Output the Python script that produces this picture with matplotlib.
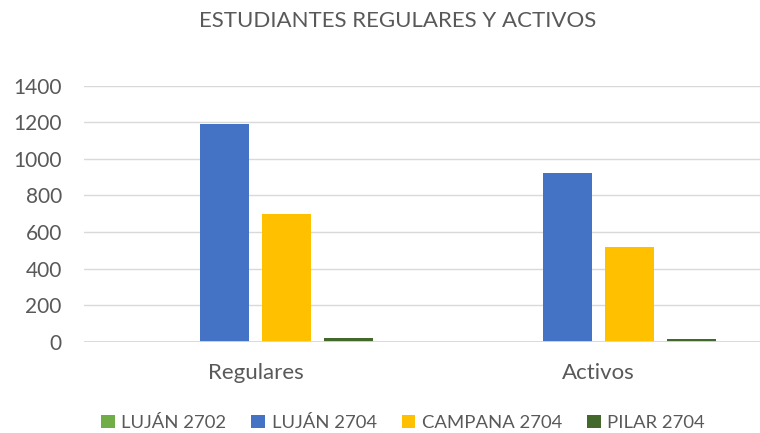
import matplotlib.pyplot as plt
import numpy as np

categories = ["Regulares", "Activos"]
series_names = ["LUJÁN 2702", "LUJÁN 2704", "CAMPANA 2704", "PILAR 2704"]
lujan_2702 = [0, 0]
lujan_2704 = [1190, 925]
campana_2704 = [697, 519]
pilar_2704 = [21, 19]
y_ticks = [0, 200, 400, 600, 800, 1000, 1200, 1400]

colors = ["#70AD47", "#4472C4", "#FFC000", "#43682B"]
text_color = "#595959"

plt.rcParams['font.family'] = ['Lato', 'DejaVu Sans']


def main():
    fig = plt.figure(figsize=(7.6, 4.33), dpi=100)
    ax = fig.add_axes([84 / 760, 91 / 433, 686 / 760, 256.5 / 433])

    x = np.arange(len(categories))
    width = 0.143
    step = 0.181
    all_series = [lujan_2702, lujan_2704, campana_2704, pilar_2704]
    for i, (name, values) in enumerate(zip(series_names, all_series)):
        offset = (i - 1.5) * step
        ax.bar(x + offset, values, width, color=colors[i], label=name,
               zorder=3)

    ax.set_xlim(-0.5, 1.5)
    ax.set_ylim(0, 1400)
    ax.set_yticks(y_ticks)
    ax.set_xticks(x)
    ax.set_xticklabels(categories)

    # gridlines only, no spines
    for s in ax.spines.values():
        s.set_visible(False)
    ax.yaxis.grid(True, color="#D9D9D9", linewidth=1.0, zorder=0)
    ax.axhline(0, color="#D9D9D9", linewidth=1.3, zorder=4)
    ax.tick_params(axis="y", length=0, pad=16, labelsize=15,
                   labelcolor=text_color)
    ax.tick_params(axis="x", length=0, pad=15, labelsize=16,
                   labelcolor=text_color)

    fig.text(398 / 760, 1 - 21 / 433, "ESTUDIANTES REGULARES Y ACTIVOS",
             ha="center", va="center", fontsize=16, color=text_color)

    fig.legend(loc="center", bbox_to_anchor=(403 / 760, 1 - 423 / 433),
               ncol=4, frameon=False, fontsize=13.3, labelcolor=text_color,
               handlelength=0.75, handleheight=0.75, handletextpad=0.35,
               columnspacing=1.35)

    fig.savefig("out.png", dpi=100)


if __name__ == "__main__":
    main()
